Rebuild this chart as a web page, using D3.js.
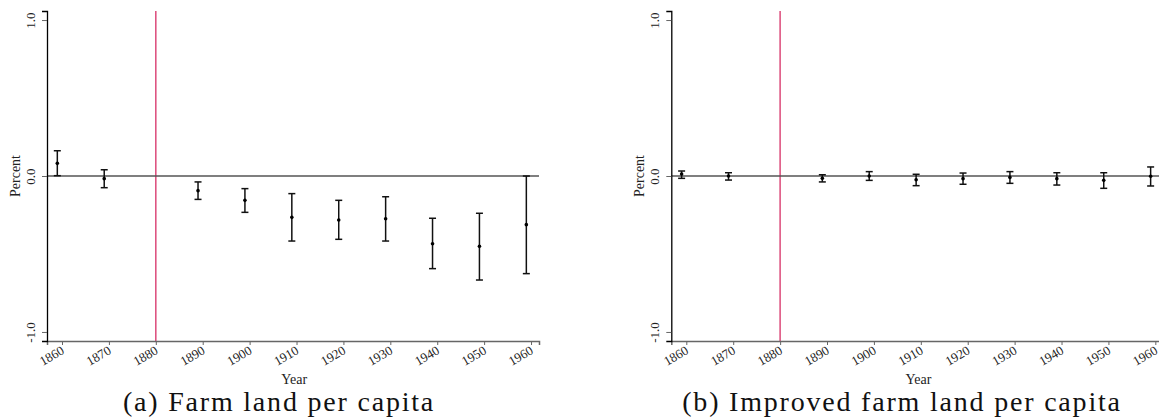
<!DOCTYPE html>
<html lang="en">
<head>
<meta charset="utf-8">
<title>Farm land per capita</title>
<script src="https://cdnjs.cloudflare.com/ajax/libs/d3/7.8.5/d3.min.js"></script>
<style>
  body { margin: 0; background: #fff; }
  svg text { font-family: "Liberation Serif", "DejaVu Serif", serif; fill: #222; }
  .caption { font-size: 28px; fill: #111; letter-spacing: 1.8px; }
</style>
</head>
<body>
<svg id="chart" width="1159" height="417"></svg>
<script>
// years plotted (points sit just left of each census tick)
const years = [1859, 1869, 1889, 1899, 1909, 1919, 1929, 1939, 1949, 1959];
const tickYears = [1860, 1870, 1880, 1890, 1900, 1910, 1920, 1930, 1940, 1950, 1960];
const yTicks = [-1, 0, 1];
const treatYear = 1880;

// panel (a) farm land per capita
const farmEst = [0.081, -0.017, -0.094, -0.156, -0.265, -0.282, -0.274, -0.434, -0.451, -0.312];
const farmLo  = [0.002, -0.075, -0.150, -0.233, -0.417, -0.406, -0.417, -0.594, -0.667, -0.626];
const farmHi  = [0.162,  0.040, -0.038, -0.081, -0.113, -0.156, -0.133, -0.271, -0.239,  0.000];

// panel (b) improved farm land per capita
const impEst = [0.013, 0.000, -0.015, 0.000, -0.024, -0.017, -0.009, -0.017, -0.028, -0.002];
const impLo  = [-0.015, -0.026, -0.038, -0.028, -0.062, -0.053, -0.047, -0.058, -0.079, -0.064];
const impHi  = [0.032, 0.021, 0.008, 0.028, 0.011, 0.019, 0.028, 0.021, 0.021, 0.058];

const svg = d3.select("#chart");
const pw = 492, ph = 330;

const x = d3.scaleLinear().domain([1856.8, 1961.7]).range([0, pw]);
const y = d3.scaleLinear().domain([-1.058, 1.058]).range([ph, 0]);

function panel(left, est, lo, hi, caption, capX) {
  const g = svg.append("g").attr("transform", `translate(${left},11)`);

  // treatment line
  g.append("line")
    .attr("x1", x(treatYear)).attr("x2", x(treatYear))
    .attr("y1", 0).attr("y2", ph)
    .attr("stroke", "#dc4a7a").attr("stroke-width", 1.5);

  // zero line
  g.append("line")
    .attr("x1", 0).attr("x2", pw)
    .attr("y1", y(0)).attr("y2", y(0))
    .attr("stroke", "#555").attr("stroke-width", 1.5);

  // x axis
  const xa = g.append("g").attr("transform", `translate(0,${ph})`)
    .call(d3.axisBottom(x).tickValues(tickYears).tickSize(4).tickFormat(d3.format("d")));
  xa.select(".domain").attr("stroke", "#666").attr("stroke-width", 1.5);
  xa.selectAll(".tick line").attr("stroke", "#666");
  xa.selectAll(".tick text")
    .attr("font-size", 13)
    .attr("text-anchor", "end")
    .attr("y", 0).attr("dy", "0.72em")
    .attr("transform", "translate(-2,4) rotate(-30)");

  // y axis
  const ya = g.append("g")
    .call(d3.axisLeft(y).tickValues(yTicks).tickSize(5).tickFormat(d => d.toFixed(1)));
  ya.select(".domain").attr("stroke", "#000").attr("stroke-width", 1.3);
  ya.selectAll(".tick line").attr("stroke", "#666");
  ya.selectAll(".tick text")
    .attr("font-size", 13)
    .attr("x", 0).attr("dy", 0)
    .attr("text-anchor", "middle")
    .attr("transform", "translate(-12,0) rotate(-90)");

  g.append("text")
    .attr("transform", `translate(-27,${y(0)}) rotate(-90)`)
    .attr("text-anchor", "middle")
    .attr("font-size", 14)
    .text("Percent");

  g.append("text")
    .attr("x", x(1909.5)).attr("y", ph + 43)
    .attr("text-anchor", "middle")
    .attr("font-size", 14)
    .text("Year");

  // error bars
  const bars = g.append("g").selectAll("g").data(years).join("g");
  bars.append("line")
    .attr("x1", d => x(d)).attr("x2", d => x(d))
    .attr("y1", (d, i) => y(lo[i])).attr("y2", (d, i) => y(hi[i]))
    .attr("stroke", "#111").attr("stroke-width", 1.5);
  bars.append("line")
    .attr("x1", d => x(d) - 3.5).attr("x2", d => x(d) + 3.5)
    .attr("y1", (d, i) => y(lo[i])).attr("y2", (d, i) => y(lo[i]))
    .attr("stroke", "#111").attr("stroke-width", 1.5);
  bars.append("line")
    .attr("x1", d => x(d) - 3.5).attr("x2", d => x(d) + 3.5)
    .attr("y1", (d, i) => y(hi[i])).attr("y2", (d, i) => y(hi[i]))
    .attr("stroke", "#111").attr("stroke-width", 1.5);
  bars.append("circle")
    .attr("cx", d => x(d)).attr("cy", (d, i) => y(est[i]))
    .attr("r", 1.8).attr("fill", "#000");

  svg.append("text")
    .attr("class", "caption")
    .attr("x", capX).attr("y", 411)
    .attr("text-anchor", "middle")
    .text(caption);
}

panel(47, farmEst, farmLo, farmHi, "(a) Farm land per capita", 279);
panel(671.3, impEst, impLo, impHi, "(b) Improved farm land per capita", 902);
</script>
</body>
</html>
